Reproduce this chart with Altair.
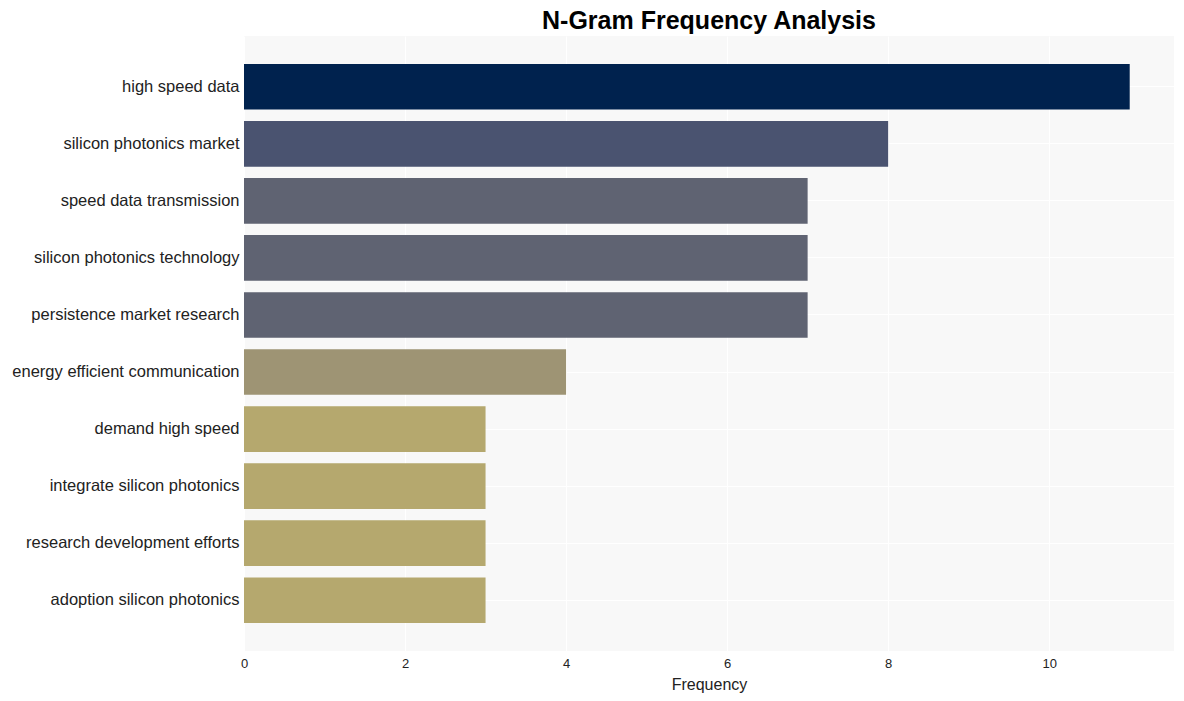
import altair as alt
import pandas as pd

ngrams = [
    "high speed data",
    "silicon photonics market",
    "speed data transmission",
    "silicon photonics technology",
    "persistence market research",
    "energy efficient communication",
    "demand high speed",
    "integrate silicon photonics",
    "research development efforts",
    "adoption silicon photonics",
]
frequency = [11, 8, 7, 7, 7, 4, 3, 3, 3, 3]

color_domain = [11, 8, 7, 4, 3]
color_range = ["#00224e", "#4a5370", "#5f6372", "#9e9474", "#b5a86e"]

df = pd.DataFrame({"ngram": ngrams, "freq": frequency})

chart = (
    alt.Chart(df)
    .mark_bar()
    .encode(
        y=alt.Y(
            "ngram:N",
            sort=ngrams,
            title=None,
            scale=alt.Scale(paddingInner=0.2, paddingOuter=0.49),
            axis=alt.Axis(
                labelFont="Liberation Sans",
                labelFontSize=16.5,
                labelColor="#222222",
                ticks=False,
                domain=False,
                labelPadding=5,
                grid=True,
                gridColor="white",
                gridWidth=1,
                bandPosition=0.5,
                labelLimit=400,
            ),
        ),
        x=alt.X(
            "freq:Q",
            title="Frequency",
            scale=alt.Scale(domain=[0, 11.55], nice=False),
            axis=alt.Axis(
                values=[0, 2, 4, 6, 8, 10],
                labelFont="Liberation Sans",
                labelFontSize=13,
                labelColor="#222222",
                labelFlush=False,
                ticks=False,
                domain=False,
                labelPadding=6,
                grid=True,
                gridColor="white",
                gridWidth=1,
                titleFont="Liberation Sans",
                titleFontSize=16,
                titleFontWeight="normal",
                titleColor="#222222",
                titlePadding=6,
            ),
        ),
        color=alt.Color(
            "freq:O",
            scale=alt.Scale(domain=color_domain, range=color_range),
            legend=None,
        ),
    )
    .properties(
        width=930,
        height=615,
        title=alt.TitleParams(
            "N-Gram Frequency Analysis",
            font="Liberation Sans",
            fontSize=25,
            fontWeight="bold",
            color="#000000",
            anchor="middle",
            offset=2,
        ),
        autosize=alt.AutoSizeParams(type="none"),
        padding={"left": 244, "top": 36, "right": 10, "bottom": 50},
        background="white",
    )
    .configure_view(fill="#f8f8f8", stroke=None)
)

chart.save("out.html", embed_options={"renderer": "svg", "actions": False})
